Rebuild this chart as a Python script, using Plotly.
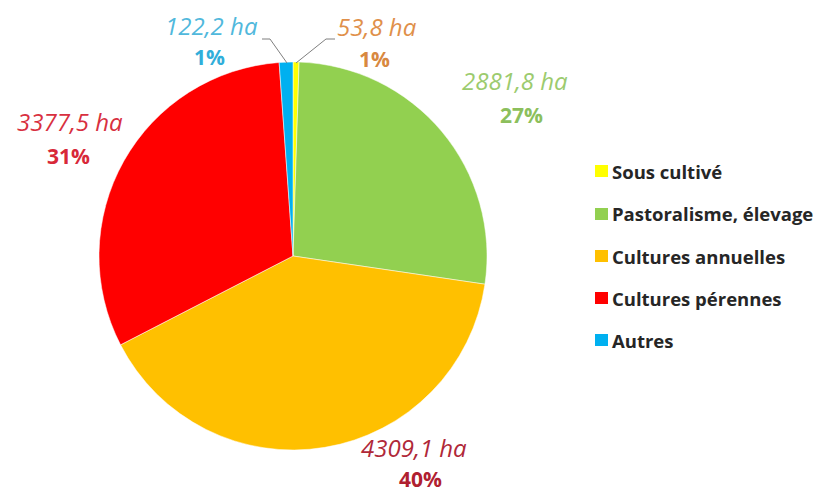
import plotly.graph_objects as go

# Browser page has an 8px body margin: figure drawn 8px in from the window corner.
OFF = 8
W, H = 827 - OFF, 494 - OFF

categories = ["Sous cultivé", "Pastoralisme, élevage", "Cultures annuelles", "Cultures pérennes", "Autres"]
values = [53.8, 2881.8, 4309.1, 3377.5, 122.2]
value_labels = ["53,8 ha", "2881,8 ha", "4309,1 ha", "3377,5 ha", "122,2 ha"]
pct_labels = ["1%", "27%", "40%", "31%", "1%"]

slice_colors = ["#FFFF00", "#92D050", "#FFC000", "#FF0000", "#00B0F0"]
value_colors = ["#E0904A", "#9CCB6E", "#B02838", "#D83040", "#50B8DC"]
pct_colors = ["#D88840", "#8CBF5C", "#B02030", "#D82838", "#30AEDA"]

# label positions in window pixels (value line center, percent line center)
lab_pos = [
    ((377, 27), (374, 59)),
    ((515, 80), (521, 115)),
    ((414, 447), (420, 479)),
    ((70, 121), (68, 156)),
    ((211, 26), (209, 57)),
]

def px(x):
    return (x - OFF) / W

def py(y):
    return 1 - (y - OFF) / H

cx, cy, r = 293, 256, 194

fig = go.Figure()
fig.add_trace(go.Pie(
    labels=categories,
    values=values,
    sort=False,
    direction="clockwise",
    rotation=0,
    textinfo="none",
    hoverinfo="label+value+percent",
    marker=dict(colors=slice_colors, line=dict(color="white", width=0.5)),
    showlegend=False,
    domain=dict(x=[px(cx - r), px(cx + r)], y=[py(cy + r), py(cy - r)]),
))

annotations = []
shapes = []
for i, cat in enumerate(categories):
    (vx, vy), (qx, qy) = lab_pos[i]
    annotations.append(dict(
        x=px(vx), y=py(vy), xref="paper", yref="paper", showarrow=False,
        text="<i>" + value_labels[i] + "</i>", xanchor="center", yanchor="middle",
        borderpad=0,
        font=dict(family="Open Sans", size=24, color=value_colors[i]),
    ))
    annotations.append(dict(
        x=px(qx), y=py(qy), xref="paper", yref="paper", showarrow=False,
        text="<b>" + pct_labels[i] + "</b>", xanchor="center", yanchor="middle",
        borderpad=0,
        font=dict(family="Open Sans", size=21, color=pct_colors[i]),
    ))

# legend (manual)
leg_y = [171, 214, 256, 298, 340]
for i, cat in enumerate(categories):
    yc = leg_y[i]
    shapes.append(dict(
        type="rect", xref="paper", yref="paper",
        x0=px(595), x1=px(608), y0=py(yc + 6), y1=py(yc - 6),
        fillcolor=slice_colors[i], line=dict(width=0),
    ))
    annotations.append(dict(
        x=px(610), y=py(yc), xref="paper", yref="paper", showarrow=False,
        text="<b>" + cat + "</b>", xanchor="left", yanchor="middle",
        font=dict(family="Open Sans", size=18.5, color="#262626"),
    ))

# leader lines
leaders = [
    [(335, 39), (326, 39), (296, 63)],
    [(262, 39), (270, 39), (287, 63)],
]
for pts in leaders:
    for (x0, y0), (x1, y1) in zip(pts[:-1], pts[1:]):
        shapes.append(dict(
            type="line", xref="paper", yref="paper",
            x0=px(x0), y0=py(y0), x1=px(x1), y1=py(y1),
            line=dict(color="#7F7F7F", width=1),
        ))

fig.update_layout(
    width=W, height=H,
    margin=dict(l=0, r=0, t=0, b=0),
    paper_bgcolor="white", plot_bgcolor="white",
    annotations=annotations, shapes=shapes,
)

fig.write_html("out.html")
